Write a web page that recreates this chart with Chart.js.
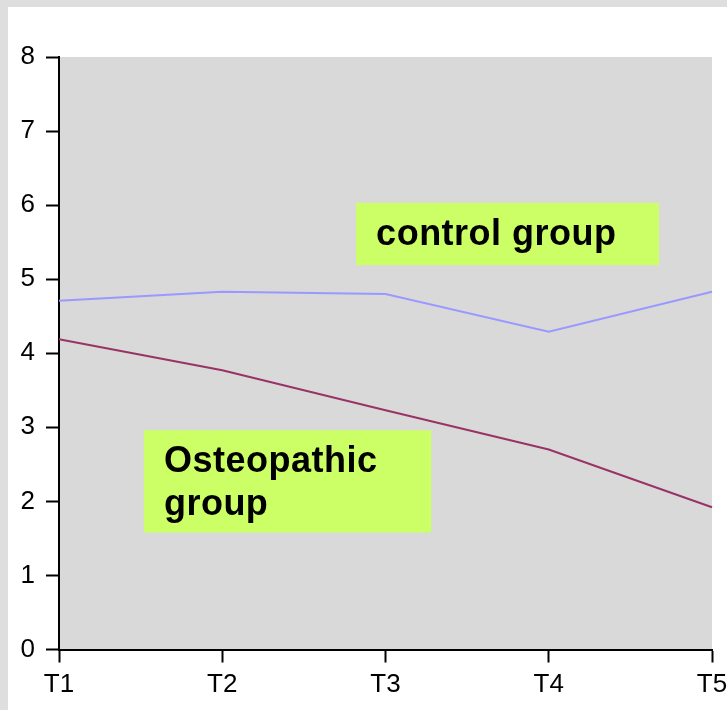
<!DOCTYPE html>
<html>
<head>
<meta charset="utf-8">
<script src="https://cdn.jsdelivr.net/npm/chart.js@4"></script>
<style>
  html, body { margin: 0; padding: 0; background: #dedede; }
  #wrap { position: absolute; left: 8px; top: 7px; width: 719px; height: 703px; background: #fff; }
</style>
</head>
<body>
<div id="wrap"><canvas id="chart" width="719" height="703"></canvas></div>
<script>
const labels = ['T1', 'T2', 'T3', 'T4', 'T5'];
const controlGroup = [4.71, 4.83, 4.80, 4.29, 4.83];
const osteoGroup = [4.19, 3.77, 3.23, 2.70, 1.92];

// text boxes, in data units: [x0, x1, yTop, yBottom]
const notes = [
  { lines: ['control group'], box: [1.82, 3.675, 6.03, 5.19] },
  { lines: ['Osteopathic', 'group'], box: [0.52, 2.28, 2.96, 1.58] }
];

const plotBg = {
  id: 'plotBg',
  beforeDraw(chart) {
    const { ctx, chartArea: a } = chart;
    ctx.save();
    ctx.fillStyle = '#d9d9d9';
    ctx.fillRect(a.left, a.top, a.right - a.left, a.bottom - a.top);
    ctx.restore();
  },
  afterDatasetsDraw(chart) {
    const { ctx, scales: { x, y } } = chart;
    ctx.save();
    notes.forEach(n => {
      const l = x.getPixelForValue(n.box[0]), r = x.getPixelForValue(n.box[1]);
      const t = y.getPixelForValue(n.box[2]), b = y.getPixelForValue(n.box[3]);
      ctx.fillStyle = '#ccff66';
      ctx.fillRect(l, t, r - l, b - t);
      ctx.fillStyle = '#000';
      ctx.font = 'bold 36px "Liberation Sans", Arial, sans-serif';
      ctx.letterSpacing = '0.5px';
      ctx.textBaseline = 'alphabetic';
      n.lines.forEach((s, i) => ctx.fillText(s, l + 20, t + 42 + i * 43));
    });
    ctx.restore();
  }
};

new Chart(document.getElementById('chart'), {
  type: 'line',
  data: {
    labels: labels,
    datasets: [
      { label: 'control group', data: controlGroup, borderColor: '#9999ff', borderWidth: 2, pointRadius: 0, tension: 0 },
      { label: 'Osteopathic group', data: osteoGroup, borderColor: '#993366', borderWidth: 2, pointRadius: 0, tension: 0 }
    ]
  },
  options: {
    responsive: false,
    animation: false,
    layout: { padding: { top: 50, right: 15, left: 0, bottom: 0 } },
    plugins: { legend: { display: false }, tooltip: { enabled: false } },
    scales: {
      x: {
        offset: false,
        grid: { drawOnChartArea: false, tickLength: 13, tickColor: '#000', tickWidth: 2 },
        border: { color: '#000', width: 2 },
        ticks: { color: '#000', font: { family: '"Liberation Sans", Arial', size: 26 }, padding: 7, maxRotation: 0 },
        afterFit(s) { s.height = 60.5; s.paddingLeft = 0; s.paddingRight = 0; }
      },
      y: {
        min: 0, max: 8,
        grid: { drawOnChartArea: false, tickLength: 13, tickColor: '#000', tickWidth: 2 },
        border: { color: '#000', width: 2 },
        ticks: { stepSize: 1, color: '#000', font: { family: '"Liberation Sans", Arial', size: 26 }, padding: 11 },
        afterFit(s) { s.width = 51; s.paddingTop = 0; s.paddingBottom = 0; }
      }
    }
  },
  plugins: [plotBg]
});
</script>
</body>
</html>
